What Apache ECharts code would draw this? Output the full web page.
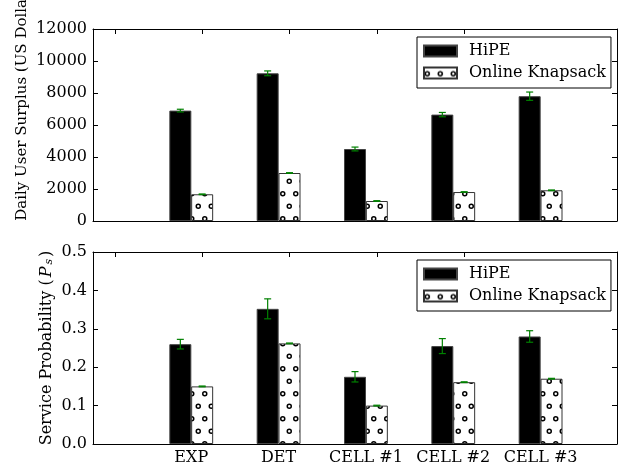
<!DOCTYPE html>
<html>
<head>
<meta charset="utf-8">
<script src="https://cdn.jsdelivr.net/npm/echarts@6/dist/echarts.min.js"></script>
<style>html,body{margin:0;padding:0;background:#fff}#c{width:629px;height:468px}</style>
</head>
<body>
<div id="c"></div>
<script>
const categories = ['EXP', 'DET', 'CELL #1', 'CELL #2', 'CELL #3'];
const hipeSurplus = [6900, 9230, 4500, 6650, 7800];
const hipeSurplusErr = [85, 150, 120, 135, 260];
const knapSurplus = [1670, 3000, 1250, 1810, 1920];
const knapSurplusErr = [20, 20, 20, 20, 20];
const hipeProb = [0.260, 0.352, 0.175, 0.255, 0.280];
const hipeProbErr = [0.0125, 0.026, 0.0135, 0.0195, 0.015];
const knapProb = [0.150, 0.262, 0.100, 0.161, 0.170];
const knapProbErr = [0.001, 0.001, 0.001, 0.001, 0.001];
const surplusAxis = { min: 0, max: 12000, step: 2000 };
const probAxis = { min: 0, max: 0.5, step: 0.1 };

const FONT = "'DejaVu Serif', serif";
const BW = 0.25; // bar width in x units

// hollow-circle hatch pattern
const tile = document.createElement('canvas');
tile.width = 13; tile.height = 25;
(function () {
  const g = tile.getContext('2d');
  g.fillStyle = '#fff'; g.fillRect(0, 0, 13, 25);
  g.strokeStyle = '#000'; g.lineWidth = 1.5;
  const pts = [[3.25, 6.25], [9.75, 18.75]];
  pts.forEach(p => { g.beginPath(); g.arc(p[0], p[1], 2.0, 0, Math.PI * 2); g.stroke(); });
})();
const hatch = { image: tile, repeat: 'repeat' };

const hipeX = categories.map((c, i) => i + 1);
const knapX = categories.map((c, i) => i + 1 + BW);
const labelX = categories.map((c, i) => i + 1 + BW / 2);
const topTickX = categories.map((c, i) => i + BW);

function pairs(xs, ys) { return xs.map((x, i) => [x, ys[i]]); }
function errs(xs, ys, es) { return xs.map((x, i) => [x, ys[i] - es[i], ys[i] + es[i]]); }

function errSeries(data, xi, yi) {
  return {
    type: 'custom', xAxisIndex: xi, yAxisIndex: yi, z: 10,
    data: data, encode: { x: 0, y: [1, 2] },
    renderItem: function (params, api) {
      const x = api.value(0);
      const lo = api.coord([x, api.value(1)]);
      const hi = api.coord([x, api.value(2)]);
      const cw = 3.5;
      const st = { stroke: '#008000', lineWidth: 1.2 };
      return {
        type: 'group', children: [
          { type: 'line', shape: { x1: lo[0], y1: lo[1], x2: hi[0], y2: hi[1] }, style: st },
          { type: 'line', shape: { x1: lo[0] - cw, y1: lo[1], x2: lo[0] + cw, y2: lo[1] }, style: st },
          { type: 'line', shape: { x1: hi[0] - cw, y1: hi[1], x2: hi[0] + cw, y2: hi[1] }, style: st }
        ]
      };
    }
  };
}

const axisLine = { show: true, onZero: false, lineStyle: { color: '#000', width: 1 } };
const labelStyle = { color: '#000', fontFamily: FONT, fontSize: 16 };

function xAxes(gi, withLabels) {
  return [
    {
      type: 'value', gridIndex: gi, position: 'bottom', min: 0, max: 6,
      axisLine: axisLine, splitLine: { show: false },
      axisTick: { show: false },
      axisLabel: withLabels ? Object.assign({
        show: true, margin: 6, customValues: labelX,
        formatter: function (v) { const i = labelX.findIndex(t => Math.abs(t - v) < 1e-6); return i >= 0 ? categories[i] : ''; }
      }, labelStyle) : { show: false }
    },
    {
      type: 'value', gridIndex: gi, position: 'top', min: 0, max: 6,
      axisLine: axisLine, splitLine: { show: false },
      axisTick: { show: true, inside: true, length: 5, customValues: topTickX, lineStyle: { color: '#000' } },
      axisLabel: { show: false }
    }
  ];
}

function yAxes(gi, ax, name, nameGap, fmt, rich, pad, fs) {
  return [
    {
      type: 'value', gridIndex: gi, position: 'left', min: ax.min, max: ax.max, interval: ax.step,
      axisLine: axisLine, splitLine: { show: false },
      axisTick: { show: true, inside: true, length: 5, lineStyle: { color: '#000' } },
      axisLabel: Object.assign({ margin: 6, formatter: fmt }, labelStyle),
      name: name, nameLocation: 'middle', nameGap: nameGap, nameRotate: 90, nameMoveOverlap: false,
      nameTextStyle: { color: '#000', fontFamily: FONT, fontSize: fs, rich: rich, padding: pad }
    },
    {
      type: 'value', gridIndex: gi, position: 'right', min: ax.min, max: ax.max, interval: ax.step,
      axisLine: axisLine, splitLine: { show: false },
      axisTick: { show: true, inside: true, length: 5, lineStyle: { color: '#000' } },
      axisLabel: { show: false }
    }
  ];
}

function legend(top) {
  return {
    left: 417, top: top, orient: 'vertical', itemWidth: 33, itemHeight: 11, itemGap: 4,
    padding: [5, 5, 6, 6], borderColor: '#000', borderWidth: 1, borderRadius: 0, backgroundColor: '#fff',
    icon: 'rect', selectedMode: false,
    textStyle: { color: '#000', fontFamily: FONT, fontSize: 16, lineHeight: 18, padding: [0, 0, 0, 7] },
    data: ['HiPE', 'Online Knapsack']
  };
}

const hipeStyle = { color: '#000', borderColor: '#444', borderWidth: 1 };
const knapStyle = { color: hatch, borderColor: '#333', borderWidth: 1 };

const option = {
  animation: false,
  backgroundColor: '#fff',
  grid: [
    { left: 93, top: 29, width: 524, height: 192, containLabel: false, outerBoundsMode: 'none' },
    { left: 93, top: 252, width: 524, height: 192, containLabel: false, outerBoundsMode: 'none' }
  ],
  legend: [legend(37), legend(260)],
  xAxis: xAxes(0, false).concat(xAxes(1, true)),
  yAxis: yAxes(0, surplusAxis, 'Daily User Surplus (US Dollars)', 63, v => String(v), {}, [0, 0, 0, 51], 15)
    .concat(yAxes(1, probAxis, 'Service Probability ({i|P}{s|s})', 38, v => v.toFixed(1), {
      i: { fontFamily: FONT, fontSize: 16, fontStyle: 'italic', color: '#000', padding: [0, 2, 0, 2] },
      s: { fontFamily: FONT, fontSize: 11, fontStyle: 'italic', color: '#000', padding: [6, 2, 0, 0] }
    }, 0, 16)),
  series: [
    { name: 'HiPE', type: 'bar', xAxisIndex: 0, yAxisIndex: 0, barWidth: 22, barGap: '-100%', data: pairs(hipeX, hipeSurplus), itemStyle: hipeStyle },
    { name: 'Online Knapsack', type: 'bar', xAxisIndex: 0, yAxisIndex: 0, barWidth: 22, barGap: '-100%', data: pairs(knapX, knapSurplus), itemStyle: knapStyle },
    errSeries(errs(hipeX, hipeSurplus, hipeSurplusErr), 0, 0),
    errSeries(errs(knapX, knapSurplus, knapSurplusErr), 0, 0),
    { name: 'HiPE', type: 'bar', xAxisIndex: 2, yAxisIndex: 2, barWidth: 22, barGap: '-100%', data: pairs(hipeX, hipeProb), itemStyle: hipeStyle },
    { name: 'Online Knapsack', type: 'bar', xAxisIndex: 2, yAxisIndex: 2, barWidth: 22, barGap: '-100%', data: pairs(knapX, knapProb), itemStyle: knapStyle },
    errSeries(errs(hipeX, hipeProb, hipeProbErr), 2, 2),
    errSeries(errs(knapX, knapProb, knapProbErr), 2, 2)
  ]
};

const chart = echarts.init(document.getElementById('c'), null, { renderer: 'canvas' });
chart.setOption(option);
</script>
</body>
</html>
